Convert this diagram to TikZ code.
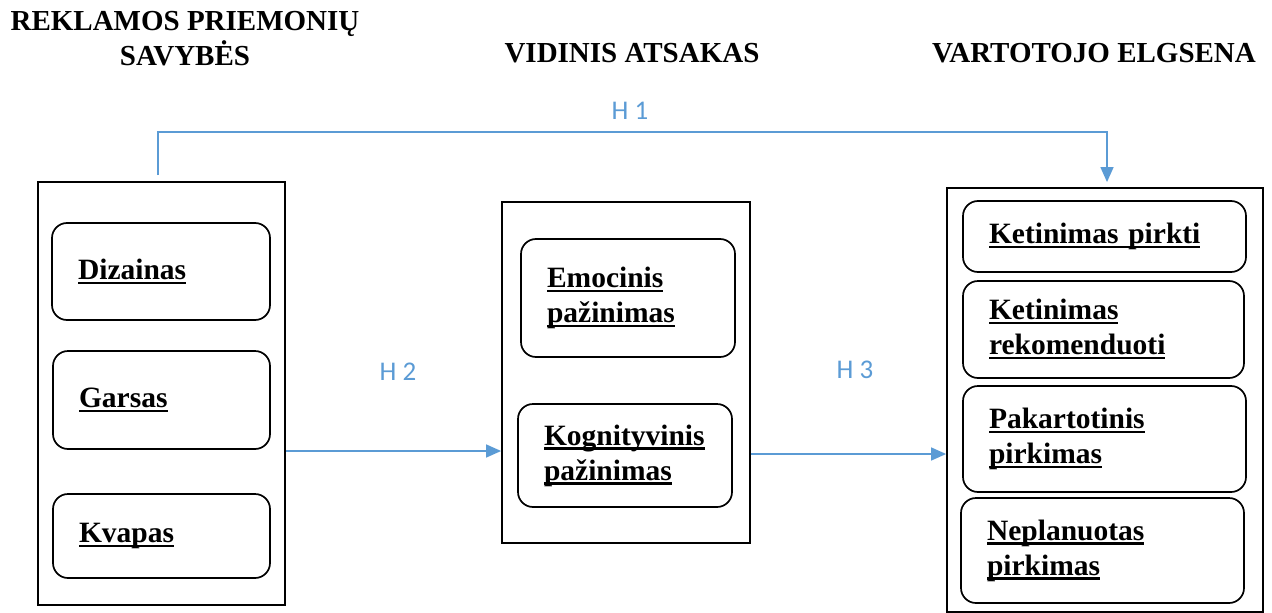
\documentclass[tikz,border=0pt]{standalone}
\usepackage{fontspec}
\setmainfont{Liberation Serif}
\newfontfamily\hfont{Carlito}
\usetikzlibrary{arrows.meta}
\definecolor{hblue}{RGB}{91,155,213}
\newcommand{\ul}[1]{\leavevmode\setbox0\hbox{#1}\rlap{\rule[-4.5pt]{\wd0}{2.4pt}}\box0}
\begin{document}
\begin{tikzpicture}[x=1pt,y=-1pt,
  outer/.style={draw,line width=1.8pt,inner sep=0pt},
  ibox/.style={draw,line width=1.7pt,rounded corners=15pt,inner xsep=26pt,inner ysep=0pt,
     align=left,font=\fontsize{29.5}{35}\selectfont\bfseries},
  title/.style={align=center,font=\fontsize{29}{35}\selectfont\bfseries},
  hlabel/.style={text=hblue,font=\hfont\fontsize{27}{30}\selectfont},
  arr/.style={draw=hblue,line width=1.4pt,-{Triangle[length=15pt,width=13pt]}}]
\useasboundingbox (0,0) rectangle (1272,613);
% titles
\node[title] (t1) at (185,39) {REKLAMOS PRIEMONIŲ\\SAVYBĖS};
\node[title] (t2) at (632,53) {VIDINIS ATSAKAS};
\node[title] (t3) at (1094,53) {VARTOTOJO ELGSENA};
% outer boxes
\node[outer,minimum width=247pt,minimum height=423pt] (L) at (161.5,393.5) {};
\node[outer,minimum width=248pt,minimum height=341pt] (M) at (626,372.5) {};
\node[outer,minimum width=316pt,minimum height=424pt] (R) at (1105,400) {};
% left inner boxes
\node[ibox,text width=166pt,minimum height=97pt] (d) at (161,271.5) {\ul{Dizainas}};
\node[ibox,text width=165pt,minimum height=98pt] (g) at (161.5,400) {\ul{Garsas}};
\node[ibox,text width=165pt,minimum height=84pt] (k) at (161.5,536) {\ul{Kvapas}};
% middle inner boxes
\node[ibox,text width=162pt,minimum height=118pt] (e) at (628,298) {\ul{Emocinis}\\\ul{pažinimas}};
\node[ibox,text width=162pt,minimum height=103pt] (kg) at (625,455.5) {\ul{Kognityvinis}\\\ul{pažinimas}};
% right inner boxes
\node[ibox,text width=231pt,minimum height=71pt] (kp) at (1104.5,236.5) {\ul{Ketinimas pirkti}};
\node[ibox,text width=229pt,minimum height=97pt] (kr) at (1103.5,329.5) {\ul{Ketinimas}\\\ul{rekomenduoti}};
\node[ibox,text width=231pt,minimum height=106pt] (pp) at (1104.5,439) {\ul{Pakartotinis}\\\ul{pirkimas}};
\node[ibox,text width=231pt,minimum height=105pt] (np) at (1102.5,550.5) {\ul{Neplanuotas}\\\ul{pirkimas}};
% connectors
\coordinate (h1s) at (158,175);
\draw[arr,shorten >=5pt] (h1s) -- ++(0,-43) -| ([xshift=2pt]R.north);
\coordinate (h2s) at ([yshift=-57.5pt]L.east);
\draw[arr] (h2s) -- (h2s -| M.west);
\coordinate (h3s) at ([yshift=-81.5pt]M.east);
\draw[arr] (h3s) -- (h3s -| R.west);
% labels
\node[hlabel] (l1) at (630,111) {H 1};
\node[hlabel] (l2) at (398,372) {H 2};
\node[hlabel] (l3) at (855,370) {H 3};
\end{tikzpicture}
\end{document}
